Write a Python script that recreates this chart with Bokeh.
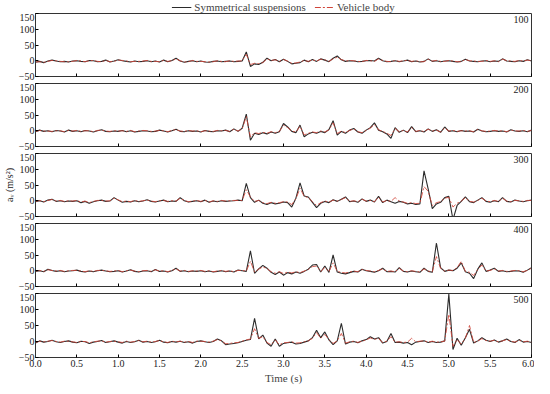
import numpy as np
from bokeh.plotting import figure
from bokeh.layouts import column
from bokeh.models import Range1d, FixedTicker, Label, Legend, LegendItem, PrintfTickFormatter
from bokeh.embed import file_html
from bokeh.resources import INLINE

# sample times (s), 0.05 s spacing
time = [round(i * 0.05, 2) for i in range(121)]

speed_labels = ["100", "200", "300", "400", "500"]
x_ticks = [0.0, 0.5, 1.0, 1.5, 2.0, 2.5, 3.0, 3.5, 4.0, 4.5, 5.0, 5.5, 6.0]
x_ticks_200 = [0.0, 1.0, 2.0, 3.0, 4.0, 5.0, 6.0]
y_ticks = [-50, 0, 50, 100, 150]

# Symmetrical suspensions (black)
sym_100 = [-5,-2,-6,-1,2,-1,-3,-2,-4,-1, 0,-2,-3,1,0,-3,-2,2,-4,-1,
           3,0,-2,-4,-1,-3,-2,0,-3,-1, -4,2,-3,1,8,-1,-5,-2,0,-3,
           -1,-4,-5,-2,-1,-3,-2,-1,-3,-2, -1,28,-18,-10,-12,-5,8,0,4,-3,
           5,-2,-10,-8,-6,2,-3,4,-2,6, 2,-3,8,15,3,-2,0,-1,-3,-2,
           0,1,-1,8,0,-3,-2,0,-3,-1, 2,-3,-1,-4,-2,6,-2,0,-3,-1,
           0,-2,-4,-2,5,-1,-2,-3,-1,0, -3,-1,-2,6,-1,-2,-3,0,-2,3, -1]
sym_200 = [-3,2,-2,0,-3,1,-1,-4,2,-2, 0,-3,1,-1,-4,0,3,-2,-3,-1,
           -2,1,-3,0,-4,-2,0,-1,-3,-2, 2,-1,-4,0,5,-2,-3,0,-2,-1,
           -4,1,-2,-3,0,-1,2,-3,6,-2, 8,53,-30,-8,-12,-6,-10,-4,-8,-3,
           23,12,-2,-6,18,-19,-10,-5,-8,-2, -6,4,32,-14,-2,-8,2,7,-4,-8,
           2,10,25,2,-3,-10,-24,10,-5,2, -6,13,-3,0,-4,6,-2,3,-5,12,
           -2,0,-3,1,-2,-1,-4,5,-1,-3, -2,0,-2,-1,-4,3,-1,-2,0,-3, 2]
sym_300 = [-3,0,-4,2,5,-2,0,-3,-1,-2, 0,-6,-2,-8,-3,0,2,-2,-1,10,
           2,-5,-2,-4,0,-3,-1,3,-2,-4, -1,2,-3,-1,-2,10,0,-4,-2,0,
           -3,2,-5,-1,-3,0,-2,-1,0,2, 0,55,10,-5,2,-8,-12,-6,-10,-8,
           -4,-6,-20,8,57,15,12,-5,-22,-8, -2,-6,3,-2,5,12,-3,-1,-5,6,
           -2,2,-4,14,-6,2,-3,-8,-2,-5, -10,-8,-12,-10,95,38,-25,-10,-5,10,
           14,-60,-15,-2,12,-3,-6,2,10,-2, -5,0,-3,10,-2,-4,2,-1,-3,0, 2]
sym_400 = [-2,0,-3,5,1,-2,0,-3,-1,0, 2,-2,-4,-1,-3,0,2,-1,-3,-2,
           0,-4,-1,3,-2,-4,-1,0,-3,4, -2,-1,-4,0,8,-2,0,-3,-1,-2,
           0,-3,-1,-4,-2,0,-3,-1,-4,2, 0,-2,63,-8,6,17,8,-5,-12,-4,
           -14,-6,-10,-4,-8,-2,5,18,20,-4, 15,-5,50,-4,-8,-10,-6,-2,-4,5,
           0,-2,-5,0,8,-3,-2,-4,10,-2, -4,-1,-3,-5,8,-2,-5,88,10,-2,
           2,0,8,25,-3,-8,-25,5,25,-2, 2,8,-2,0,-3,-2,0,-1,-5,2, 10]
sym_500 = [-5,2,-2,0,4,-1,-3,0,2,-2, -4,1,-1,-6,-2,0,3,-3,-1,2,
           -2,-5,0,-3,-1,4,-2,0,-3,-1, 4,-2,-4,0,-2,1,-3,-1,-5,0,
           2,-1,-3,0,8,2,-10,-8,-6,-4, 0,4,6,72,8,20,-5,-15,8,-15,
           -6,-4,-2,-8,-6,-2,2,12,35,12, 30,5,-10,2,57,-8,-2,0,-4,2,
           6,15,8,12,-5,0,25,-3,-2,-5, -3,-10,-2,0,2,-3,0,-3,-2,2,
           148,-25,10,-12,12,38,-5,2,12,4, 0,5,-2,2,8,0,-3,6,-2,0, -3]

# Vehicle body (red dash-dot)
body_100 = [-4,-3,-5,-2,1,0,-2,-3,-3,-2, 1,-1,-3,0,1,-2,-3,1,-3,-2,
            2,1,-1,-3,-2,-2,-1,1,-2,-2, -3,1,-2,0,6,0,-4,-3,1,-2,
            -2,-3,-4,-3,0,-2,-3,0,-2,-1, 0,20,-12,-8,-9,-6,6,1,3,-2,
            4,-1,-8,-7,-4,1,-2,3,-1,5, 3,-2,6,11,4,-1,1,0,-2,-3,
            1,0,-2,6,1,-2,-3,1,-2,0, 1,-2,0,-3,-3,5,-1,1,-2,-2,
            1,-1,-3,-3,4,0,-1,-2,-2,1, -2,0,-3,5,0,-1,-2,1,-1,2, 0]
body_200 = [-2,1,-1,-1,-2,0,0,-3,1,-1, 1,-2,0,0,-3,1,2,-1,-2,0,
            -1,0,-2,1,-3,-1,1,0,-2,-1, 1,0,-3,1,4,-1,-2,1,-1,0,
            -3,0,-1,-2,1,0,1,-2,5,-1, 6,45,-20,-6,-9,-5,-8,-3,-6,-2,
            18,10,-1,-4,14,-13,-8,-4,-6,-1, -4,3,25,-9,-1,-6,1,6,-3,-6,
            1,8,20,3,-2,-8,-15,7,-3,1, -4,10,-2,1,-3,5,-1,2,-4,9,
            -1,1,-2,0,-1,0,-3,4,0,-2, -1,1,-1,0,-3,2,0,-1,1,-2, 1]
body_300 = [-2,1,-3,1,4,-1,1,-2,0,-1, 1,-4,-1,-6,-2,1,1,-1,0,8,
            3,-3,-1,-3,1,-2,0,2,-1,-3, 0,1,-2,0,-1,8,1,-3,-1,1,
            -2,1,-4,0,-2,1,-1,0,1,1, 1,35,12,-2,1,-6,-9,-5,-8,-6,
            -3,-4,-12,6,40,14,10,-3,-15,-6, -1,-4,2,-1,4,10,-2,0,-3,5,
            -1,1,-3,11,-4,1,-2,10,-1,-4, -8,-6,-9,-8,45,30,-15,-6,-3,8,
            11,-20,-8,-1,10,-2,-4,1,8,-1, -3,1,-2,8,-1,-3,1,0,-2,1, 1]
body_400 = [-1,1,-2,3,1,-1,1,-2,0,1, 1,-1,-3,0,-2,1,1,0,-2,-1,
            1,-3,0,2,-1,-3,0,1,-2,3, -1,0,-3,1,6,-1,1,-2,0,-1,
            1,-2,0,-3,-1,1,-2,0,-3,1, 1,-1,30,-4,5,12,7,-3,-8,-3,
            -9,-4,-7,-3,-6,-1,4,13,15,-2, 10,-3,25,-2,-5,-7,-4,-1,-3,4,
            1,-1,-3,1,6,-2,-1,-3,8,-1, -3,0,-2,-4,6,-1,-3,45,8,-1,
            2,1,10,30,-2,-5,-15,4,18,-1, 1,6,-1,1,-2,-1,1,0,-3,1, 8]
body_500 = [-3,1,-1,1,3,0,-2,1,1,-1, -3,0,0,-4,-1,1,2,-2,0,1,
            -1,-3,1,-2,0,3,-1,1,-2,0, 3,-1,-3,1,-1,1,-2,0,-3,1,
            1,0,-2,1,6,2,-7,-6,-4,-3, 1,5,8,40,10,15,-3,-10,5,-10,
            -4,-3,-1,-5,-4,-1,2,10,28,10, 22,6,-6,2,25,-5,-1,1,-3,1,
            5,11,7,9,-3,1,15,-2,-1,-3, -2,10,-1,1,2,-2,1,-2,-1,1,
            85,-15,6,-8,10,50,-3,1,9,3, 1,4,-1,2,6,1,-2,4,-1,1, -2]

sym = [sym_100, sym_200, sym_300, sym_400, sym_500]
body = [body_100, body_200, body_300, body_400, body_500]

FONT = "Liberation Serif"
BLACK = "#2b2b2b"
RED = "#d0453a"
W = 534
heights = [70, 70, 70, 70, 93]
LEFT = 28

# legend header: series drawn outside its visible y-range, only the legend shows
head = figure(width=W, height=13, x_range=Range1d(0, 6), y_range=Range1d(1000, 1001),
              output_backend="svg", toolbar_location=None,
              min_border_left=0, min_border_right=0, min_border_top=0, min_border_bottom=0)
head.axis.visible = False
head.grid.visible = False
head.outline_line_color = None
hb = head.line(time, sym_100, line_color=BLACK, line_width=1.1)
hr = head.line(time, body_100, line_color=RED, line_width=1, line_dash="6 2 2 2")
legend = Legend(items=[LegendItem(label="Symmetrical suspensions", renderers=[hb]),
                       LegendItem(label="Vehicle body", renderers=[hr])],
                orientation="horizontal", location="center",
                border_line_alpha=0, background_fill_alpha=0,
                label_text_font=FONT, label_text_font_size="11px",
                label_height=10, glyph_height=10, glyph_width=20,
                padding=0, margin=0, spacing=8, label_standoff=3)
head.add_layout(legend, "center")

figs = [head]
for i in range(5):
    last = (i == 4)
    p = figure(width=W, height=heights[i],
               x_range=Range1d(0, 6), y_range=Range1d(-50, 150),
               output_backend="svg", toolbar_location=None,
               min_border_left=LEFT, min_border_right=3,
               min_border_top=0,
               min_border_bottom=(7 if not last else 0),
               background_fill_color="white", border_fill_color="white")
    p.grid.visible = False
    p.outline_line_color = "#333333"
    p.outline_line_alpha = 1
    p.outline_line_width = 1

    p.line(time, sym[i], line_color=BLACK, line_width=1.1)
    p.line(time, body[i], line_color=RED, line_width=1, line_alpha=0.85,
           line_dash="6 2 2 2")

    xa = p.xaxis[0]
    xa.ticker = FixedTicker(ticks=(x_ticks_200 if i == 1 else x_ticks))
    xa.major_tick_in = 3
    xa.major_tick_out = 0
    xa.minor_tick_line_color = None
    xa.axis_line_color = "#333333"
    if last:
        xa.formatter = PrintfTickFormatter(format="%.1f")
        xa.major_label_text_font = FONT
        xa.major_label_text_font_size = "10px"
        xa.major_label_text_color = "#222222"
        xa.major_label_standoff = 2
        xa.axis_label = "Time (s)"
        xa.axis_label_text_font = FONT
        xa.axis_label_text_font_size = "11px"
        xa.axis_label_text_font_style = "normal"
        xa.axis_label_standoff = 2
    else:
        xa.major_label_overrides = {t: "" for t in (x_ticks_200 if i == 1 else x_ticks)}
        xa.major_label_standoff = 0

    ya = p.yaxis[0]
    ya.ticker = FixedTicker(ticks=y_ticks)
    ya.major_tick_in = 3
    ya.major_tick_out = 0
    ya.minor_tick_line_color = None
    ya.axis_line_color = "#333333"
    ya.major_label_text_font = FONT
    ya.major_label_text_font_size = "10px"
    ya.major_label_text_color = "#222222"
    ya.major_label_standoff = 1
    if i == 2:
        ya.axis_label = "aᵥ (m/s²)"
        ya.axis_label_text_font = FONT
        ya.axis_label_text_font_size = "10px"
        ya.axis_label_text_font_style = "normal"
        ya.axis_label_text_color = "#222222"
        ya.axis_label_standoff = 1

    p.add_layout(Label(x=6, y=150, x_offset=-3, y_offset=-2, text=speed_labels[i],
                       text_align="right", text_baseline="top",
                       text_font=FONT, text_font_size="10px", text_color="#222222"))
    figs.append(p)

layout = column(*figs, spacing=0)
open("out.html", "w").write(file_html(layout, INLINE))
